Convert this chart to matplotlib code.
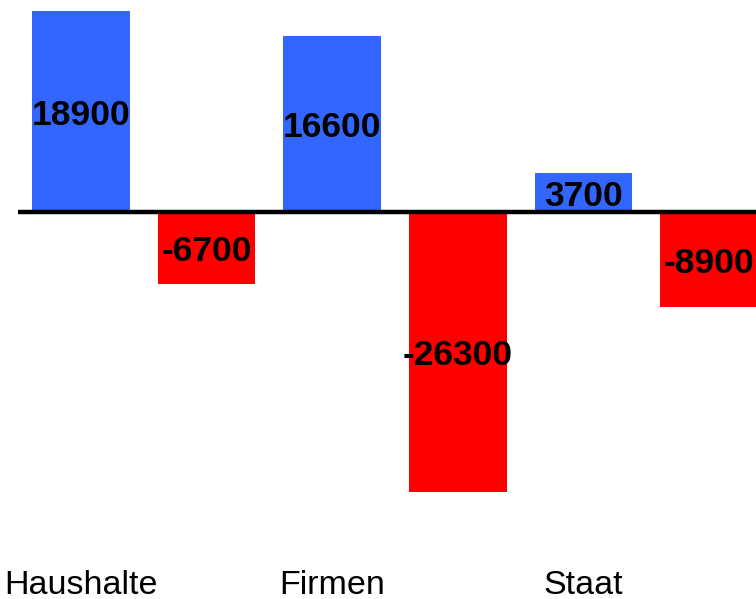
import matplotlib.pyplot as plt
import numpy as np

plt.rcParams["font.family"] = ["Liberation Sans", "DejaVu Sans"]

sektoren = ["Haushalte", "Firmen", "Staat"]
plus = [18900, 16600, 3700]
minus = [-6700, -26300, -8900]

fig = plt.figure(figsize=(7.56, 5.99), dpi=100)
ax = fig.add_axes([0, 0, 1, 1])

x = np.arange(len(sektoren)) * 2
ax.bar(x, plus, width=0.776, color="#3366ff", zorder=2)
ax.bar(x + 1, minus, width=0.776, color="#ff0000", zorder=2)

# Werte mittig in die Balken schreiben
for xs, werte in ((x, plus), (x + 1, minus)):
    for xi, v in zip(xs, werte):
        ax.text(xi, v / 2, str(v), ha="center", va="center_baseline",
                fontsize=25.5, fontweight="bold", zorder=4)

# Nulllinie
ax.hlines(0, -0.5, x[-1] + 1.6, color="black", linewidth=3.2, zorder=3)

for xi, name in zip(x, sektoren):
    ax.text(xi, 0.009, name, transform=ax.get_xaxis_transform(),
            ha="center", va="baseline", fontsize=24.5)

ax.set_xlim(-0.645, 5.374)
ax.set_ylim(-36343, 19981)
ax.axis("off")

fig.savefig("out.png", dpi=100)
